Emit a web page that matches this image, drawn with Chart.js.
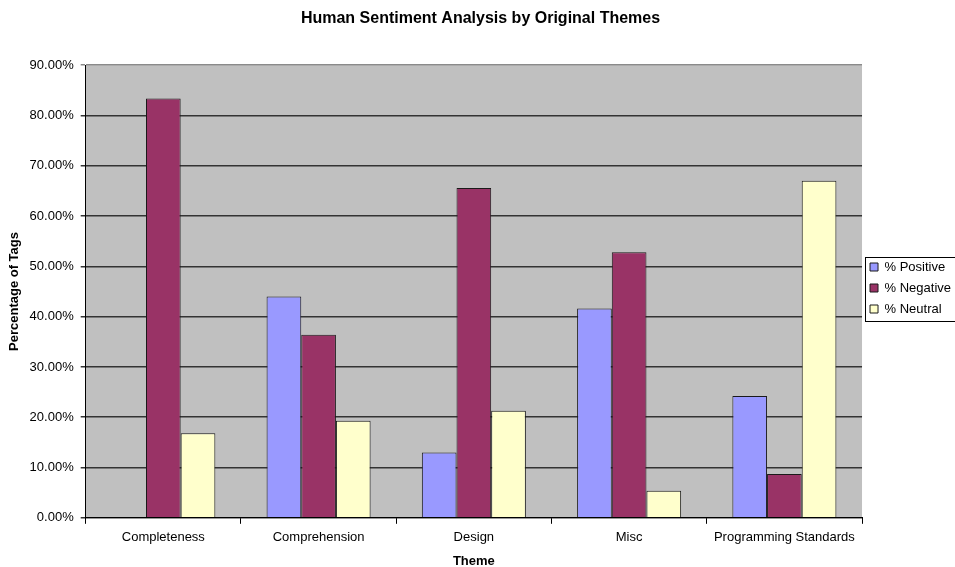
<!DOCTYPE html>
<html>
<head>
<meta charset="utf-8">
<script src="https://cdn.jsdelivr.net/npm/chart.js@4/dist/chart.umd.min.js"></script>
<style>
  html, body { margin: 0; padding: 0; background: #fff; }
  #wrap { width: 955px; height: 567px; }
</style>
</head>
<body>
<div id="wrap"><canvas id="sentimentChart" width="955" height="567"></canvas></div>
<script>
// dati
const themes = ['Completeness', 'Comprehension', 'Design', 'Misc', 'Programming Standards'];
const positivePct = [0, 44.0, 13.0, 41.6, 24.2];
const negativePct = [83.4, 36.4, 65.6, 52.8, 8.7];
const neutralPct = [16.8, 19.3, 21.3, 5.4, 67.0];
const yTicks = [0, 10, 20, 30, 40, 50, 60, 70, 80, 90];

Chart.defaults.font.family = 'Arial, "Liberation Sans", sans-serif';
Chart.defaults.color = '#000';

// sfondo grigio dell'area del grafico + bordo della legenda
const plotBackground = {
    id: 'plotBackground',
    beforeDraw(chart) {
        const a = chart.chartArea;
        const c = chart.ctx;
        c.save();
        c.fillStyle = '#c0c0c0';
        c.fillRect(a.left, a.top, a.right - a.left, a.bottom - a.top);
        c.restore();
    },
    afterDraw(chart) {
        const boxes = chart.legend.legendHitBoxes;
        if (!boxes || !boxes.length) return;
        const first = boxes[0];
        const last = boxes[boxes.length - 1];
        const x = Math.round(first.left) - 5;
        const y = Math.round(first.top + first.height / 2) - 10;
        const h = Math.round(last.top + last.height / 2) + 12 - y;
        const c = chart.ctx;
        c.save();
        c.strokeStyle = '#000';
        c.lineWidth = 1;
        c.strokeRect(x + 0.5, y + 0.5, 120, h);
        c.restore();
    }
};

const ctx = document.getElementById('sentimentChart').getContext('2d');
const sentimentChart = new Chart(ctx, {
    type: 'bar',
    data: {
        labels: themes,
        datasets: [{
            label: '% Positive',
            data: positivePct,
            backgroundColor: '#9999ff',
            borderColor: '#1a1a1a',
            borderWidth: 1
        }, {
            label: '% Negative',
            data: negativePct,
            backgroundColor: '#993366',
            borderColor: '#1a1a1a',
            borderWidth: 1
        }, {
            label: '% Neutral',
            data: neutralPct,
            backgroundColor: '#ffffcc',
            borderColor: '#1a1a1a',
            borderWidth: 1
        }]
    },
    options: {
        responsive: false,
        animation: false,
        layout: { padding: { top: 7, right: -6, bottom: -2, left: 0 } },
        datasets: { bar: { categoryPercentage: 0.67, barPercentage: 1.0 } },
        plugins: {
            title: {
                display: true,
                text: 'Human Sentiment Analysis by Original Themes',
                font: { size: 16, weight: 'bold' },
                color: '#000',
                padding: { top: 2, bottom: 37 }
            },
            legend: {
                position: 'right',
                align: 'center',
                labels: {
                    boxWidth: 8,
                    boxHeight: 8,
                    padding: 8,
                    color: '#000',
                    font: { size: 13 }
                }
            },
            tooltip: { enabled: false }
        },
        scales: {
            x: {
                offset: true,
                grid: {
                    offset: true,
                    drawOnChartArea: false,
                    drawTicks: true,
                    tickLength: 6,
                    color: '#000'
                },
                border: { color: '#000', width: 1 },
                ticks: { font: { size: 13 }, color: '#000', maxRotation: 0, padding: 6 },
                title: {
                    display: true,
                    text: 'Theme',
                    font: { size: 13, weight: 'bold' },
                    color: '#000',
                    padding: { top: 2, bottom: 0 }
                }
            },
            y: {
                min: 0,
                max: 90,
                afterBuildTicks(axis) {
                    axis.ticks = yTicks.map(v => ({ value: v }));
                },
                grid: {
                    color: ctx => (ctx.tick && ctx.tick.value === 90 ? '#8a8a8a' : '#333'),
                    lineWidth: 1.5,
                    tickLength: 5,
                    drawTicks: true
                },
                border: { color: '#000', width: 1 },
                ticks: {
                    font: { size: 13 },
                    color: '#000',
                    padding: 7,
                    callback: v => v.toFixed(2) + '%'
                },
                title: {
                    display: true,
                    text: 'Percentage of Tags',
                    font: { size: 13, weight: 'bold' },
                    color: '#000',
                    padding: { top: 7, bottom: 0 }
                }
            }
        }
    },
    plugins: [plotBackground]
});
</script>
</body>
</html>
